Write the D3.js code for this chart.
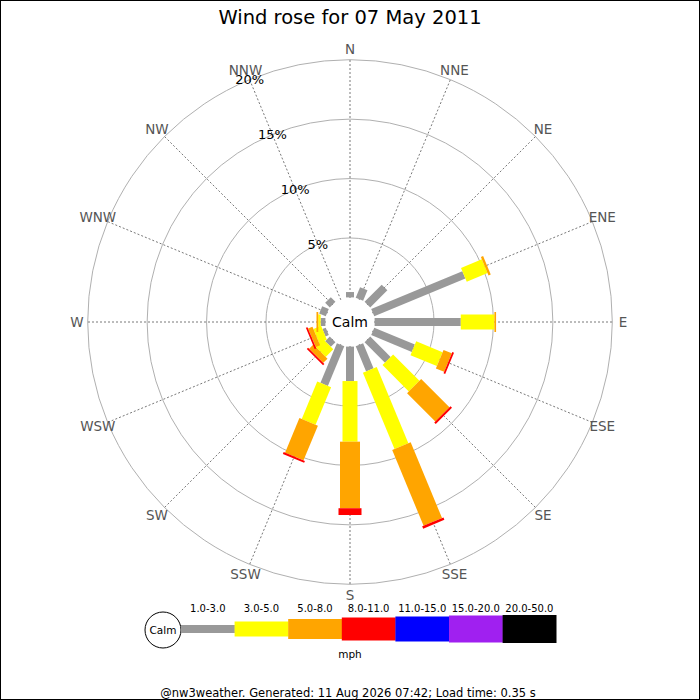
<!DOCTYPE html>
<html>
<head>
<meta charset="utf-8">
<script src="https://cdn.jsdelivr.net/npm/d3@7"></script>
<style>
  html, body { margin: 0; padding: 0; background: #fff; }
  svg { display: block; font-family: "DejaVu Sans", sans-serif; }
</style>
</head>
<body>
<svg id="chart" width="700" height="700"></svg>
<script>
// ---------------- data ----------------
const title = "Wind rose for 07 May 2011";
const directions = ["N","NNE","NE","ENE","E","ESE","SE","SSE","S","SSW","SW","WSW","W","WNW","NW","NNW"];
const speedBins = ["1.0-3.0","3.0-5.0","5.0-8.0","8.0-11.0","11.0-15.0","15.0-20.0","20.0-50.0"];
const binColors = ["#999999","#ffff00","#ffa500","#ff0000","#0000ff","#a020f0","#000000"];
const pctTicks = [5, 10, 15, 20];
// percentage of time per direction for each speed bin (mph)
const bin1to3   = [0.45, 0.96, 2.04, 8.30, 7.25, 3.70, 2.43, 2.29, 2.90, 3.61, 0.55, 0.30, 0.40, 0.60, 0.55, 0];
const bin3to5   = [0, 0, 0, 1.90, 2.83, 2.40, 3.13, 6.95, 5.10, 3.41, 0.90, 0.70, 0.20, 0, 0, 0];
const bin5to8   = [0, 0, 0, 0.20, 0.14, 0.75, 3.36, 6.90, 5.60, 3.16, 0.50, 0.40, 0.15, 0, 0, 0];
const bin8to11  = [0, 0, 0, 0, 0, 0.15, 0.18, 0.21, 0.57, 0.17, 0.15, 0.15, 0, 0, 0, 0];
const bin11to15 = [0, 0, 0, 0, 0, 0, 0, 0, 0, 0, 0, 0, 0, 0, 0, 0];
const bin15to20 = [0, 0, 0, 0, 0, 0, 0, 0, 0, 0, 0, 0, 0, 0, 0, 0];
const bin20to50 = [0, 0, 0, 0, 0, 0, 0, 0, 0, 0, 0, 0, 0, 0, 0, 0];
const footer = "@nw3weather. Generated: 11 Aug 2026 07:42; Load time: 0.35 s";
const unitLabel = "mph";

// ---------------- layout ----------------
const svg = d3.select("#chart");
const W = 700, H = 700, cx = 350, cy = 322;
const barWidths = [8, 15, 20, 23, 25, 27, 28];

svg.append("rect").attr("x", 0.5).attr("y", 0.5).attr("width", W - 1).attr("height", H - 1)
  .attr("fill", "#fff").attr("stroke", "#000").attr("stroke-width", 1);

svg.append("text").attr("x", cx).attr("y", 24).attr("text-anchor", "middle")
  .attr("font-size", 19.5).attr("fill", "#000").text(title);

const r = d3.scaleLinear().domain([0, 20]).range([24.6, 262.3]);
const angle = d3.scaleLinear().domain([0, directions.length]).range([0, 360]);

const g = svg.append("g").attr("transform", `translate(${cx},${cy})`);

// rings
g.selectAll("circle.ring").data(pctTicks).join("circle")
  .attr("class", "ring").attr("r", d => r(d))
  .attr("fill", "none").attr("stroke", "#b0b0b0").attr("stroke-width", 1);

// direction lines
const rad = d => (angle(d) - 90) * Math.PI / 180;
g.selectAll("line.dir").data(d3.range(directions.length)).join("line")
  .attr("class", "dir")
  .attr("x1", 0).attr("y1", 0)
  .attr("x2", i => r(20) * Math.cos(rad(i)))
  .attr("y2", i => r(20) * Math.sin(rad(i)))
  .attr("stroke", "#555").attr("stroke-width", 0.8).attr("stroke-dasharray", "2,2");

// bars
const series = [bin1to3, bin3to5, bin5to8, bin8to11, bin11to15, bin15to20, bin20to50];
const rows = directions.map((d, i) => {
  const o = { dir: d, i };
  speedBins.forEach((b, k) => o[b] = series[k][i]);
  return o;
});
const stacked = d3.stack().keys(speedBins)(rows);
const segs = [];
directions.forEach((d, i) => {
  stacked.forEach((layer, k) => {
    const v0 = layer[i][0], v1 = layer[i][1];
    if (v1 - v0 > 0) segs.push({ i, k, v0, v1 });
  });
});
g.selectAll("rect.seg").data(segs).join("rect")
  .attr("class", "seg")
  .attr("transform", d => `rotate(${angle(d.i)})`)
  .attr("x", d => -barWidths[d.k] / 2)
  .attr("y", d => -r(d.v1))
  .attr("width", d => barWidths[d.k])
  .attr("height", d => r(d.v1) - r(d.v0))
  .attr("fill", d => binColors[d.k]);

// calm circle
g.append("circle").attr("r", 23).attr("fill", "#fff");
g.append("text").attr("x", 0).attr("y", 0).attr("dy", "0.35em").attr("text-anchor", "middle")
  .attr("font-size", 14).attr("fill", "#000").text("Calm");

// direction labels
g.selectAll("text.dirlab").data(directions).join("text")
  .attr("class", "dirlab")
  .attr("x", (d, i) => 273 * Math.cos(rad(i)))
  .attr("y", (d, i) => 273 * Math.sin(rad(i)))
  .attr("dy", "0.35em").attr("text-anchor", "middle")
  .attr("font-size", 13.5).attr("fill", "#555").text(d => d);

// percent labels along NNW
const nnw = directions.indexOf("NNW");
g.selectAll("text.pct").data(pctTicks).join("text")
  .attr("class", "pct")
  .attr("x", d => r(d) * Math.cos(rad(nnw)))
  .attr("y", d => r(d) * Math.sin(rad(nnw)))
  .attr("dy", "0.35em").attr("text-anchor", "middle")
  .attr("font-size", 13).attr("fill", "#000").text(d => d + "%");

// ---------------- legend ----------------
const lx0 = 181, segW = 53.6, ly = 629;
const lx = d3.scaleLinear().domain([0, speedBins.length]).range([lx0, lx0 + segW * speedBins.length]);
const lg = svg.append("g");
lg.append("circle").attr("cx", 163).attr("cy", 630).attr("r", 18)
  .attr("fill", "#fff").attr("stroke", "#000").attr("stroke-width", 1);
lg.append("text").attr("x", 163).attr("y", 630).attr("dy", "0.35em").attr("text-anchor", "middle")
  .attr("font-size", 10.5).attr("fill", "#000").text("Calm");
lg.selectAll("rect").data(speedBins).join("rect")
  .attr("x", (d, k) => lx(k)).attr("width", segW + 0.3)
  .attr("y", (d, k) => ly - barWidths[k] / 2).attr("height", (d, k) => barWidths[k])
  .attr("fill", (d, k) => binColors[k]);
lg.selectAll("text.bin").data(speedBins).join("text")
  .attr("class", "bin")
  .attr("x", (d, k) => lx(k + 0.5)).attr("y", 608).attr("dy", "0.35em")
  .attr("text-anchor", "middle").attr("font-size", 10).attr("fill", "#000").text(d => d);
lg.append("text").attr("x", 350).attr("y", 654).attr("dy", "0.35em").attr("text-anchor", "middle")
  .attr("font-size", 10.5).attr("fill", "#000").text(unitLabel);

svg.append("text").attr("x", 348).attr("y", 693).attr("dy", "0.35em").attr("text-anchor", "middle")
  .attr("font-size", 11.5).attr("fill", "#000").text(footer);
</script>
</body>
</html>
